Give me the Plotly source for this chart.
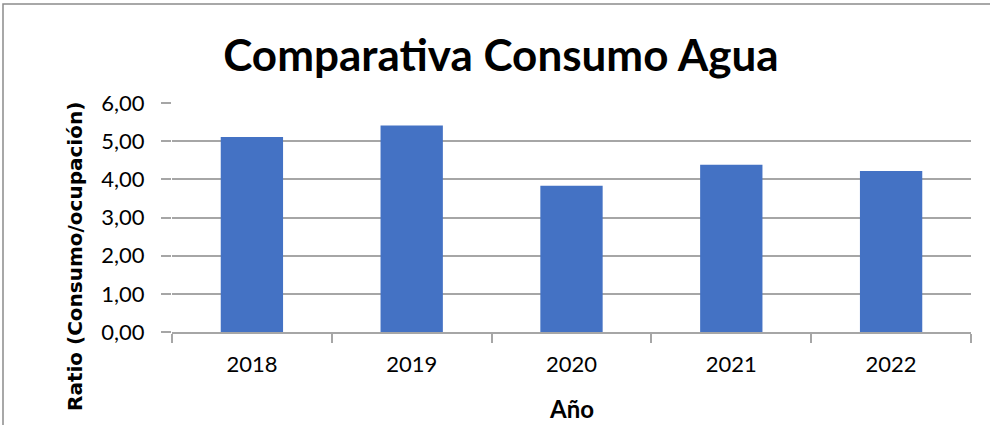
import plotly.graph_objects as go

# Data
years = ["2018", "2019", "2020", "2021", "2022"]
ratio = [5.11, 5.41, 3.83, 4.38, 4.22]

COLORS = {
    "bar": "#4472C4",
    "grid": "#A6A6A6",
    "text": "#000000",
    "border": "#8C8C8C",
}

# plot area in pixels: x 172..971, y 103..332
PLOT_W, PLOT_H = 799, 229

fig = go.Figure()
fig.add_trace(go.Bar(
    x=years, y=ratio,
    marker=dict(color=COLORS["bar"], line=dict(width=0)),
    hovertemplate="%{x}<br>%{y:.2f}<extra></extra>",
))

fig.update_layout(
    width=990, height=425,
    plot_bgcolor="white", paper_bgcolor="white",
    separators=",.",
    font=dict(family="Lato, sans-serif", size=22, color=COLORS["text"]),
    margin=dict(l=172, r=19, t=103, b=93),
    bargap=0.61,
    showlegend=False,
    title=dict(
        text="<b>Comparativa Consumo Agua</b>",
        x=0.506, xanchor="center", y=0.87, yanchor="middle",
        font=dict(family="Lato, sans-serif", size=44, color=COLORS["text"]),
    ),
    xaxis=dict(
        showline=True, linecolor=COLORS["grid"], linewidth=1.5,
        ticks="outside", tickson="boundaries", ticklen=9,
        tickcolor=COLORS["grid"], tickwidth=1.5,
        ticklabelstandoff=12,
        showgrid=False,
    ),
    yaxis=dict(
        range=[0, 6], dtick=1, tickformat=".2f",
        showgrid=True, gridcolor=COLORS["grid"], gridwidth=1.5,
        ticks="outside", ticklen=10, tickcolor=COLORS["grid"], tickwidth=1.5,
        ticklabelstandoff=12,
        zeroline=False, showline=False,
    ),
)

# Axis titles placed as annotations (Excel offsets the y title downward)
fig.add_annotation(
    text="<b>Ratio (Consumo/ocupación)</b>", textangle=-90,
    xref="paper", yref="paper", x=(75 - 172) / PLOT_W, y=(332 - 257) / PLOT_H,
    xanchor="center", yanchor="middle", showarrow=False,
    font=dict(family="DejaVu Sans, sans-serif", size=20, color=COLORS["text"]),
)
fig.add_annotation(
    text="<b>Año</b>",
    xref="paper", yref="paper", x=0.5, y=(332 - 408) / PLOT_H,
    xanchor="center", yanchor="middle", showarrow=False,
    font=dict(family="Lato, sans-serif", size=24, color=COLORS["text"]),
)

# Outer chart border (thin gray frame, cropped at right/bottom)
fig.add_shape(type="rect", xref="paper", yref="paper",
              x0=(3 - 172) / PLOT_W, x1=1.2, y0=-1, y1=(332 - 4) / PLOT_H,
              line=dict(color=COLORS["border"], width=1.5), layer="below")

fig.write_html("out.html", config={"displayModeBar": False},
               post_script="document.body.style.margin='0';")
